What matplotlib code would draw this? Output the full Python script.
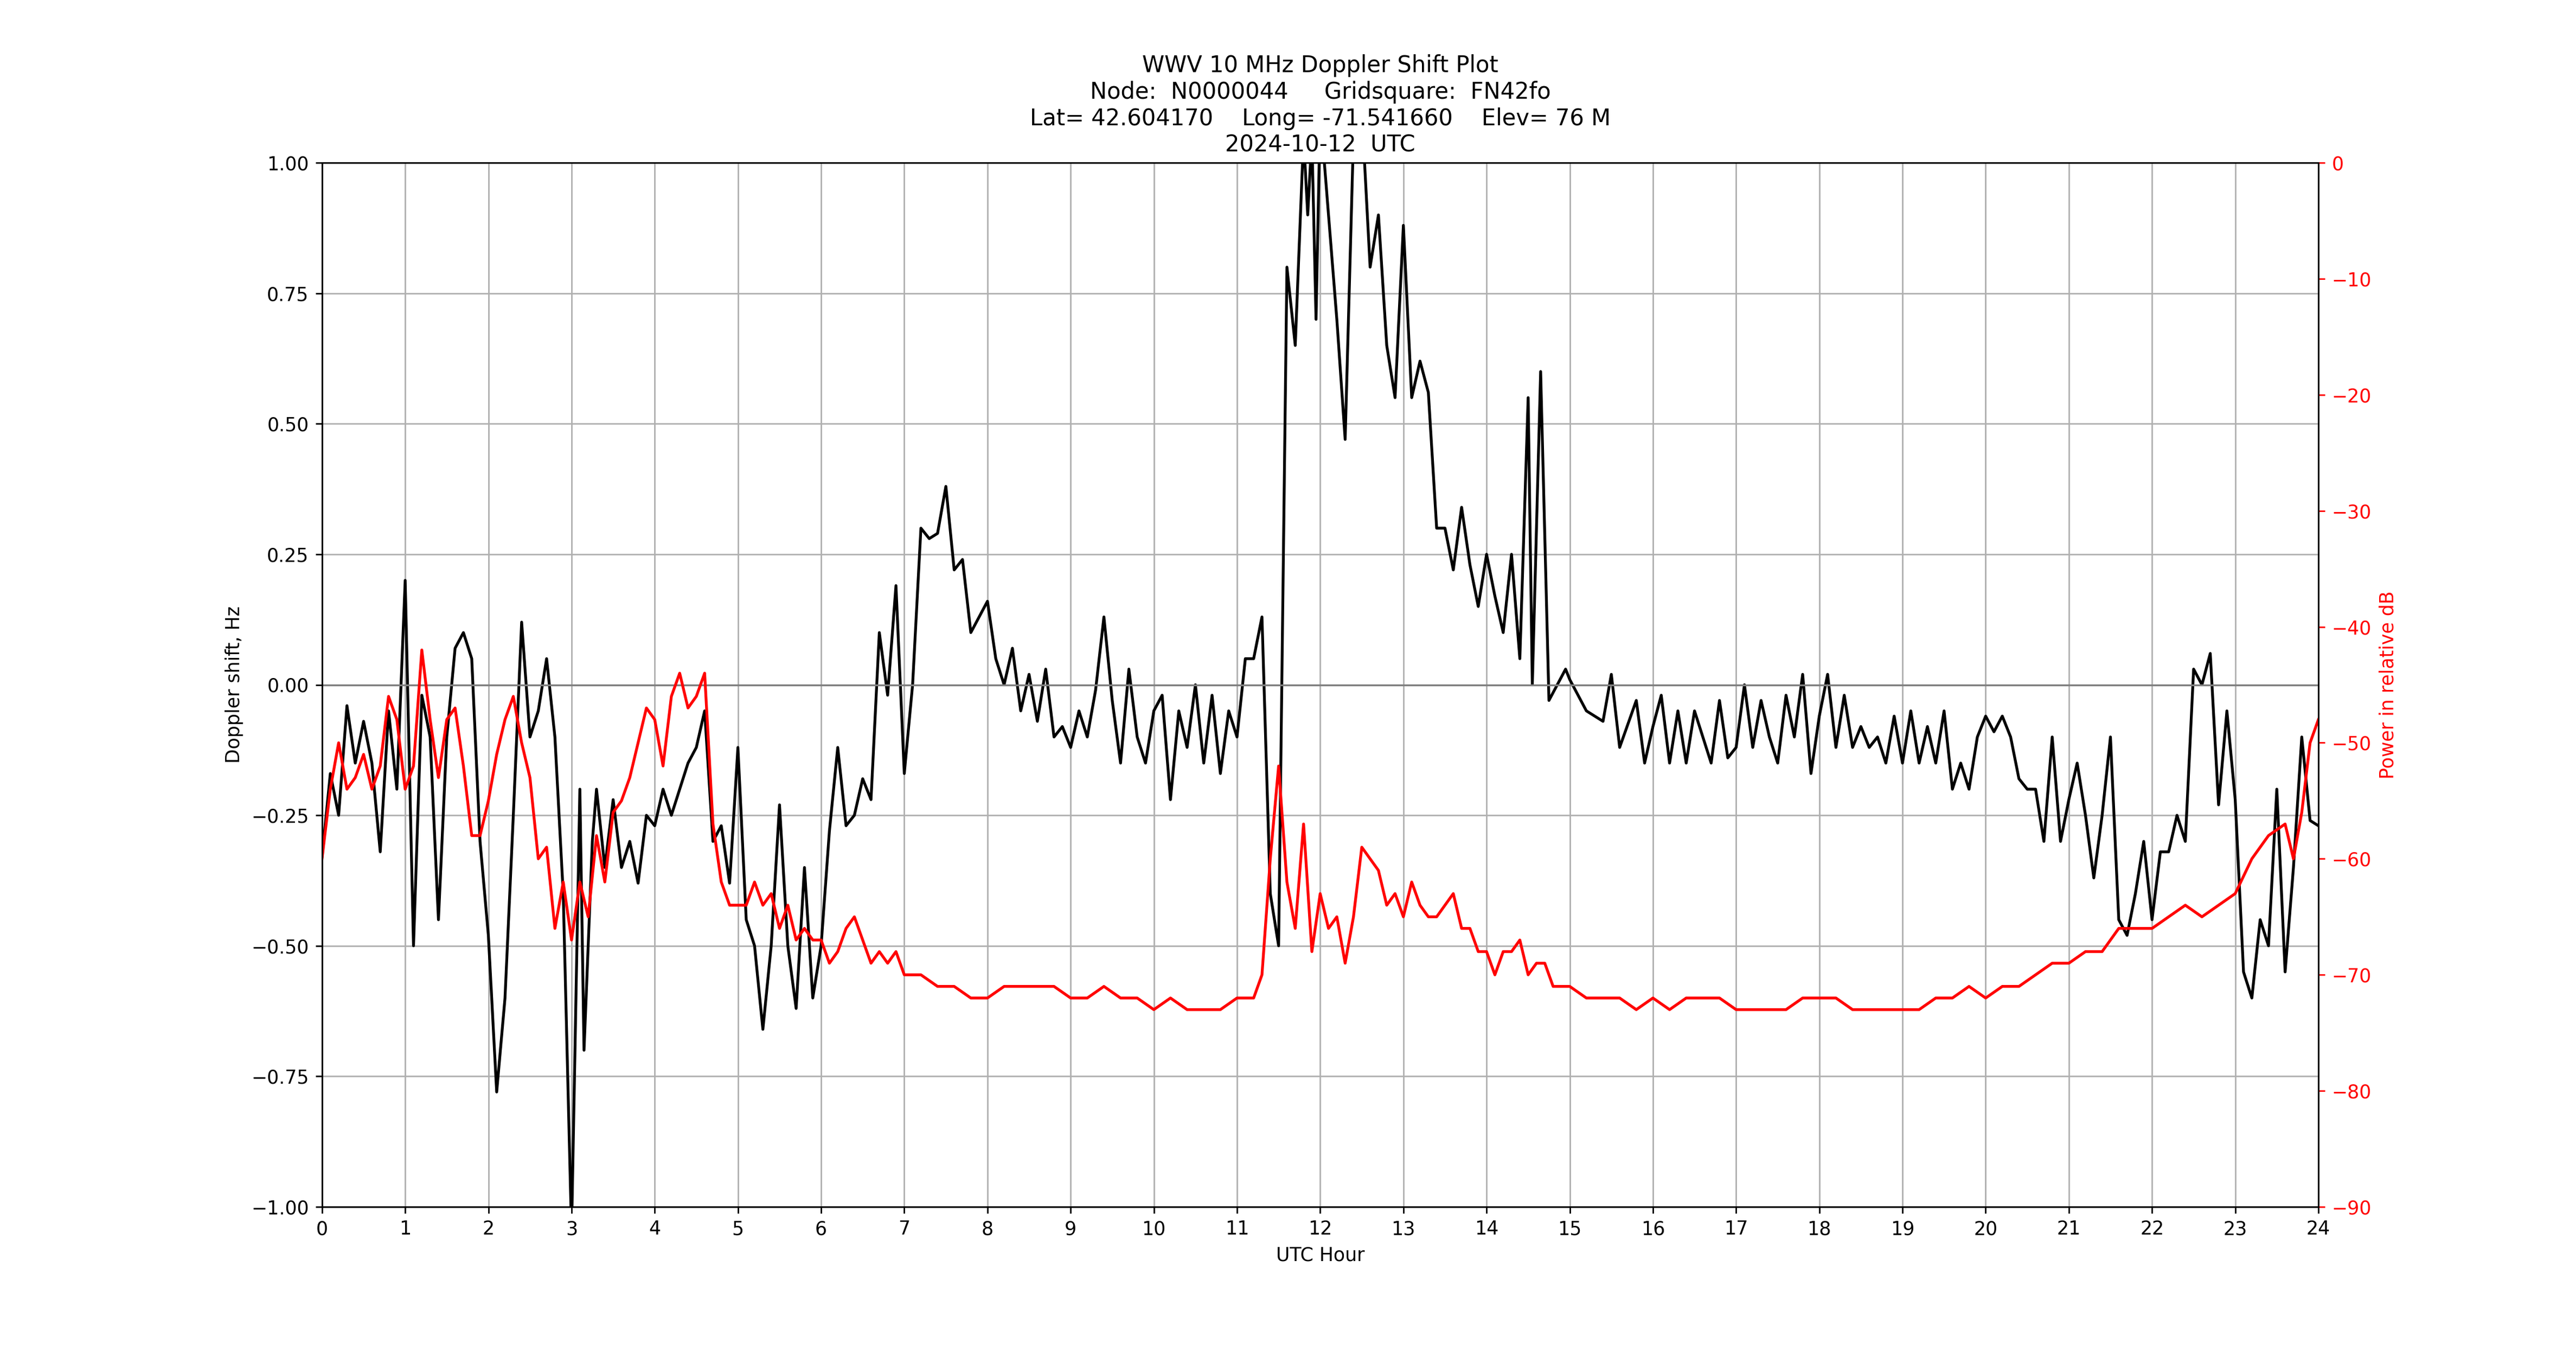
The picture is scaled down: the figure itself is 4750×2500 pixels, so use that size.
import matplotlib
matplotlib.use("Agg")
import matplotlib.pyplot as plt

bx = [0.0,0.1,0.2,0.3,0.4,0.5,0.6,0.7,0.8,0.9,1.0,1.1,1.2,1.3,1.4,1.5,1.6,1.7,1.8,1.9,2.0,2.1,2.2,2.3,2.4,2.5,2.6,2.7,2.8,2.9,3.0,3.1,3.15,3.25,3.3,3.4,3.5,3.6,3.7,3.8,3.9,4.0,4.1,4.2,4.3,4.4,4.5,4.6,4.7,4.8,4.9,5.0,5.1,5.2,5.3,5.4,5.5,5.6,5.7,5.8,5.9,6.0,6.1,6.2,6.3,6.4,6.5,6.6,6.7,6.8,6.9,7.0,7.1,7.2,7.3,7.4,7.5,7.6,7.7,7.8,7.9,8.0,8.1,8.2,8.3,8.4,8.5,8.6,8.7,8.8,8.9,9.0,9.1,9.2,9.3,9.4,9.5,9.6,9.7,9.8,9.9,10.0,10.1,10.2,10.3,10.4,10.5,10.6,10.7,10.8,10.9,11.0,11.1,11.2,11.3,11.4,11.5,11.6,11.7,11.8,11.85,11.9,11.95,12.0,12.1,12.2,12.3,12.4,12.5,12.6,12.7,12.8,12.9,13.0,13.1,13.2,13.3,13.4,13.5,13.6,13.7,13.8,13.9,14.0,14.1,14.2,14.3,14.4,14.5,14.55,14.65,14.75,14.85,14.95,15.0,15.2,15.4,15.5,15.6,15.8,15.9,16.0,16.1,16.2,16.3,16.4,16.5,16.7,16.8,16.9,17.0,17.1,17.2,17.3,17.4,17.5,17.6,17.7,17.8,17.9,18.0,18.1,18.2,18.3,18.4,18.5,18.6,18.7,18.8,18.9,19.0,19.1,19.2,19.3,19.4,19.5,19.6,19.7,19.8,19.9,20.0,20.1,20.2,20.3,20.4,20.5,20.6,20.7,20.8,20.9,21.0,21.1,21.2,21.3,21.4,21.5,21.6,21.7,21.8,21.9,22.0,22.1,22.2,22.3,22.4,22.5,22.6,22.7,22.8,22.9,23.0,23.1,23.2,23.3,23.4,23.5,23.6,23.7,23.8,23.9,24.0]
doppler = [-0.33,-0.17,-0.25,-0.04,-0.15,-0.07,-0.15,-0.32,-0.05,-0.2,0.2,-0.5,-0.02,-0.1,-0.45,-0.1,0.07,0.1,0.05,-0.3,-0.48,-0.78,-0.6,-0.25,0.12,-0.1,-0.05,0.05,-0.1,-0.4,-1.05,-0.2,-0.7,-0.3,-0.2,-0.35,-0.22,-0.35,-0.3,-0.38,-0.25,-0.27,-0.2,-0.25,-0.2,-0.15,-0.12,-0.05,-0.3,-0.27,-0.38,-0.12,-0.45,-0.5,-0.66,-0.5,-0.23,-0.5,-0.62,-0.35,-0.6,-0.5,-0.28,-0.12,-0.27,-0.25,-0.18,-0.22,0.1,-0.02,0.19,-0.17,0.0,0.3,0.28,0.29,0.38,0.22,0.24,0.1,0.13,0.16,0.05,0.0,0.07,-0.05,0.02,-0.07,0.03,-0.1,-0.08,-0.12,-0.05,-0.1,-0.01,0.13,-0.03,-0.15,0.03,-0.1,-0.15,-0.05,-0.02,-0.22,-0.05,-0.12,0.0,-0.15,-0.02,-0.17,-0.05,-0.1,0.05,0.05,0.13,-0.4,-0.5,0.8,0.65,1.05,0.9,1.05,0.7,1.1,0.9,0.7,0.47,1.05,1.1,0.8,0.9,0.65,0.55,0.88,0.55,0.62,0.56,0.3,0.3,0.22,0.34,0.23,0.15,0.25,0.17,0.1,0.25,0.05,0.55,0.0,0.6,-0.03,0.0,0.03,0.01,-0.05,-0.07,0.02,-0.12,-0.03,-0.15,-0.08,-0.02,-0.15,-0.05,-0.15,-0.05,-0.15,-0.03,-0.14,-0.12,0.0,-0.12,-0.03,-0.1,-0.15,-0.02,-0.1,0.02,-0.17,-0.06,0.02,-0.12,-0.02,-0.12,-0.08,-0.12,-0.1,-0.15,-0.06,-0.15,-0.05,-0.15,-0.08,-0.15,-0.05,-0.2,-0.15,-0.2,-0.1,-0.06,-0.09,-0.06,-0.1,-0.18,-0.2,-0.2,-0.3,-0.1,-0.3,-0.22,-0.15,-0.25,-0.37,-0.25,-0.1,-0.45,-0.48,-0.4,-0.3,-0.45,-0.32,-0.32,-0.25,-0.3,0.03,0.0,0.06,-0.23,-0.05,-0.22,-0.55,-0.6,-0.45,-0.5,-0.2,-0.55,-0.35,-0.1,-0.26,-0.27]

rx = [0.0,0.1,0.2,0.3,0.4,0.5,0.6,0.7,0.8,0.9,1.0,1.1,1.2,1.3,1.4,1.5,1.6,1.7,1.8,1.9,2.0,2.1,2.2,2.3,2.4,2.5,2.6,2.7,2.8,2.9,3.0,3.1,3.2,3.3,3.4,3.5,3.6,3.7,3.8,3.9,4.0,4.1,4.2,4.3,4.4,4.5,4.6,4.7,4.8,4.9,5.0,5.1,5.2,5.3,5.4,5.5,5.6,5.7,5.8,5.9,6.0,6.1,6.2,6.3,6.4,6.5,6.6,6.7,6.8,6.9,7.0,7.2,7.4,7.6,7.8,8.0,8.2,8.4,8.6,8.8,9.0,9.2,9.4,9.6,9.8,10.0,10.2,10.4,10.6,10.8,11.0,11.2,11.3,11.4,11.5,11.6,11.7,11.8,11.9,12.0,12.1,12.2,12.3,12.4,12.5,12.6,12.7,12.8,12.9,13.0,13.1,13.2,13.3,13.4,13.5,13.6,13.7,13.8,13.9,14.0,14.1,14.2,14.3,14.4,14.5,14.6,14.7,14.8,15.0,15.2,15.4,15.6,15.8,16.0,16.2,16.4,16.6,16.8,17.0,17.2,17.4,17.6,17.8,18.0,18.2,18.4,18.6,18.8,19.0,19.2,19.4,19.6,19.8,20.0,20.2,20.4,20.6,20.8,21.0,21.2,21.4,21.6,21.8,22.0,22.2,22.4,22.6,22.8,23.0,23.2,23.4,23.6,23.7,23.8,23.9,24.0]
power = [-60,-54,-50,-54,-53,-51,-54,-52,-46,-48,-54,-52,-42,-48,-53,-48,-47,-52,-58,-58,-55,-51,-48,-46,-50,-53,-60,-59,-66,-62,-67,-62,-65,-58,-62,-56,-55,-53,-50,-47,-48,-52,-46,-44,-47,-46,-44,-57,-62,-64,-64,-64,-62,-64,-63,-66,-64,-67,-66,-67,-67,-69,-68,-66,-65,-67,-69,-68,-69,-68,-70,-70,-71,-71,-72,-72,-71,-71,-71,-71,-72,-72,-71,-72,-72,-73,-72,-73,-73,-73,-72,-72,-70,-60,-52,-62,-66,-57,-68,-63,-66,-65,-69,-65,-59,-60,-61,-64,-63,-65,-62,-64,-65,-65,-64,-63,-66,-66,-68,-68,-70,-68,-68,-67,-70,-69,-69,-71,-71,-72,-72,-72,-73,-72,-73,-72,-72,-72,-73,-73,-73,-73,-72,-72,-72,-73,-73,-73,-73,-73,-72,-72,-71,-72,-71,-71,-70,-69,-69,-68,-68,-66,-66,-66,-65,-64,-65,-64,-63,-60,-58,-57,-60,-56,-50,-48]

xticks = list(range(0, 25))

fig = plt.figure(figsize=(19, 10), dpi=250)
ax = fig.add_subplot(111)
ax.plot(bx, doppler, color='black', linewidth=1.5)
ax.axhline(0, color='gray', linewidth=1)
ax.set_xlim(0, 24)
ax.set_ylim(-1, 1)
ax.set_xticks(xticks)
ax.set_yticks([-1, -0.75, -0.5, -0.25, 0, 0.25, 0.5, 0.75, 1])
ax.set_yticklabels(['−1.00', '−0.75', '−0.50', '−0.25', '0.00', '0.25', '0.50', '0.75', '1.00'])
ax.grid(True, color='#b0b0b0')
ax.set_xlabel('UTC Hour')
ax.set_ylabel('Doppler shift, Hz')
ax.set_title('WWV 10 MHz Doppler Shift Plot\nNode:  N0000044     Gridsquare:  FN42fo\n'
             'Lat= 42.604170    Long= -71.541660    Elev= 76 M\n2024-10-12  UTC', fontsize=12)
ax2 = ax.twinx()
ax2.plot(rx, power, color='red', linewidth=1.5)
ax2.set_ylim(-90, 0)
ax2.set_ylabel('Power in relative dB', color='red')
ax2.tick_params(axis='y', colors='red')
fig.savefig('out.png', dpi=250)
